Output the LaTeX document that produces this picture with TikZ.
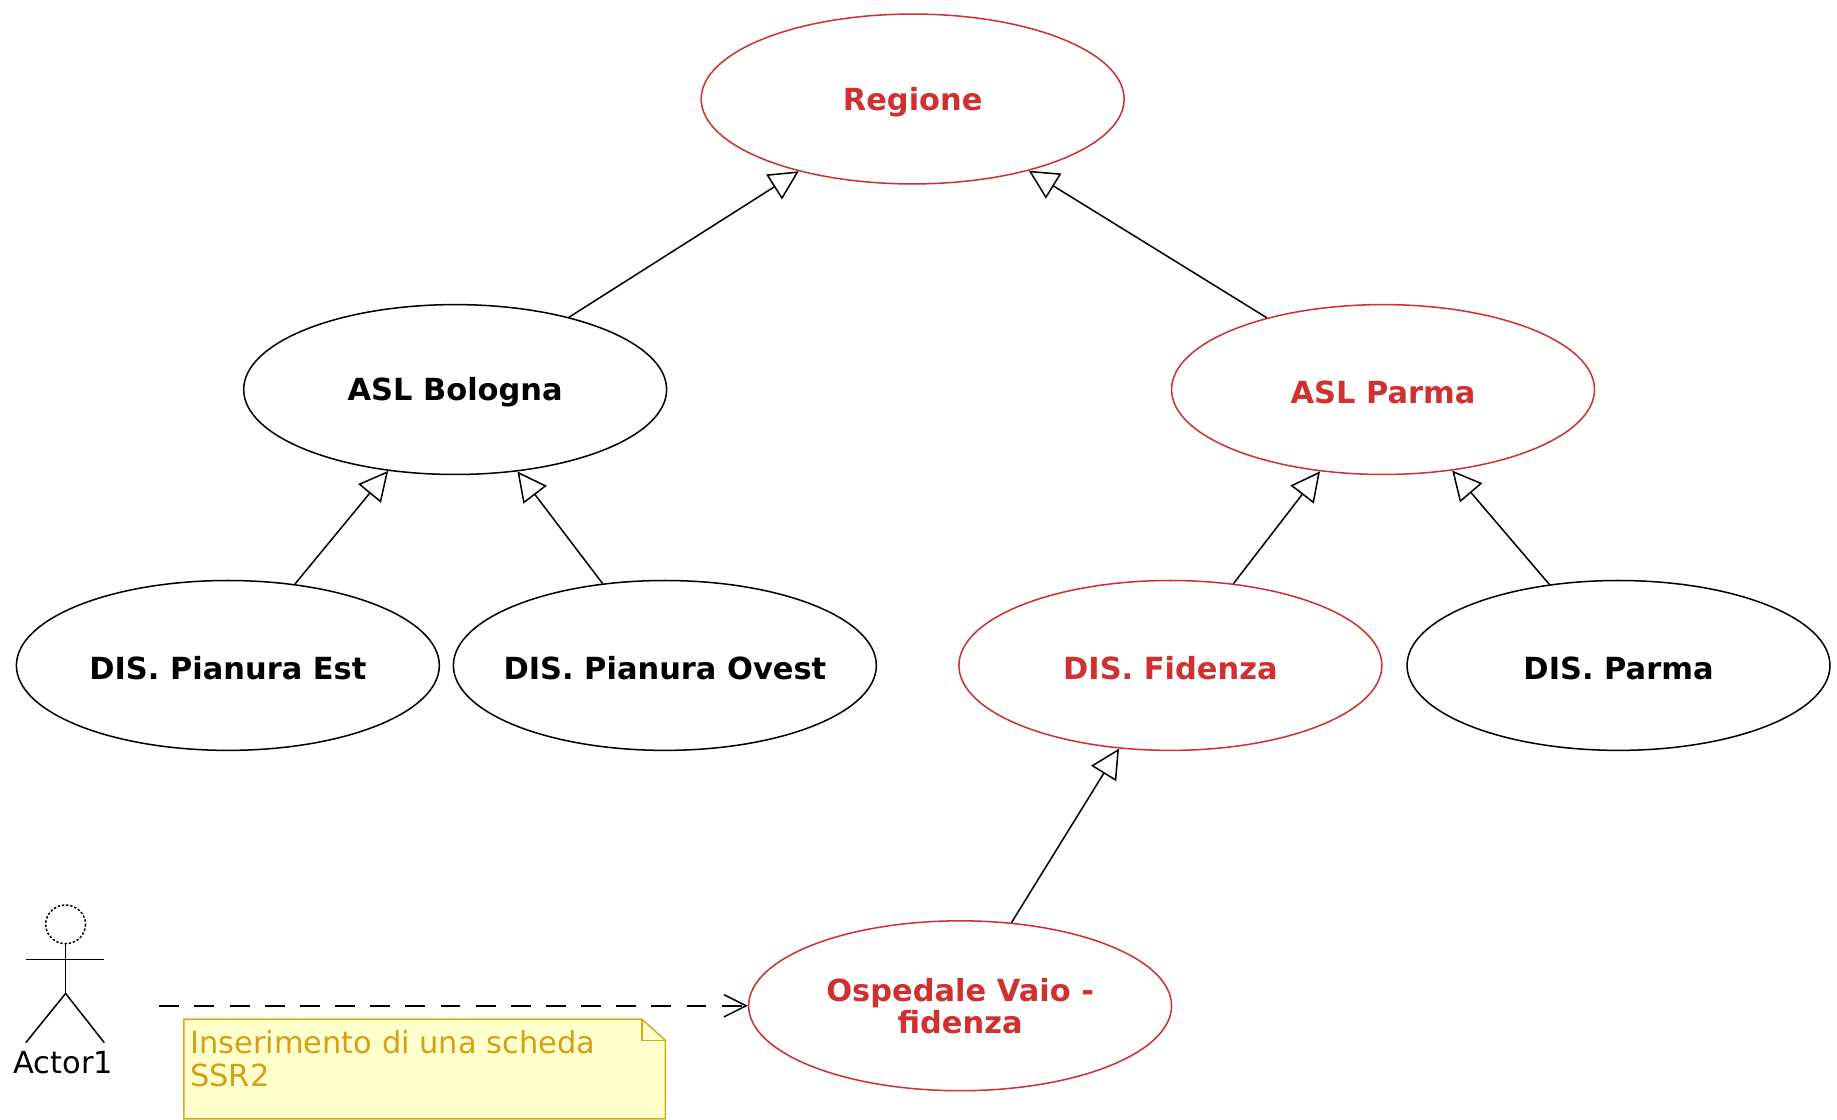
\documentclass[tikz,border=0pt]{standalone}
\usepackage{fontspec}
\setmainfont{DejaVu Sans}
\usetikzlibrary{shapes.geometric,arrows.meta}
\definecolor{ucred}{RGB}{208,48,48}
\definecolor{notefill}{RGB}{255,255,204}
\definecolor{noteline}{RGB}{214,170,40}
\definecolor{notetext}{RGB}{212,160,23}
\newcommand{\uctext}[1]{\makebox[0pt]{\raisebox{-1.2pt}[\height][\depth]{#1}}}
\tikzset{
  uc/.style={ellipse, draw=black, line width=0.65pt, minimum width=180.5pt, minimum height=72.5pt, inner sep=0pt,
    font=\fontsize{13pt}{14pt}\selectfont\bfseries, align=center},
  ucr/.style={uc, draw=ucred, text=ucred},
  gen/.style={line width=0.65pt, -{Triangle[open, length=12.5pt, width=12.5pt]}},
  dep/.style={line width=0.65pt, dash pattern=on 8.5pt off 6.5pt, -{Straight Barb[length=9.5pt, width=9.5pt]}},
  actorline/.style={line width=0.65pt},
}
\begin{document}
\begin{tikzpicture}[x=0.5pt, y=-0.5pt]
\useasboundingbox (0,0) rectangle (1568,956);
\node[ucr] (reg) at (779,84.5) {\uctext{Regione}};
\node[uc] (aslbo) at (388.5,332.5) {\uctext{ASL Bologna}};
\node[ucr] (aslpr) at (1180.5,332.5) {\uctext{ASL Parma}};
\node[uc] (pest) at (194.5,568) {\uctext{DIS. Pianura Est}};
\node[uc] (povest) at (567.5,568) {\uctext{DIS. Pianura Ovest}};
\node[ucr] (fid) at (999,568) {\uctext{DIS. Fidenza}};
\node[uc] (dpr) at (1381.5,568) {\uctext{DIS. Parma}};
\node[ucr] (osp) at (819.5,858.5) {\makebox[0pt]{\raisebox{-2pt}[\height][\depth]{\begin{tabular}{@{}c@{}}Ospedale Vaio -\\[-0.5pt]fidenza\end{tabular}}}};
\draw[gen] (aslbo) -- (reg);
\draw[gen] (aslpr) -- (reg);
\draw[gen] (pest) -- (aslbo);
\draw[gen] (povest) -- (aslbo);
\draw[gen] (fid) -- (aslpr);
\draw[gen] (dpr) -- (aslpr);
\draw[gen] (osp) -- (fid);
% actor
\draw[actorline, dash pattern=on 1pt off 0.8pt] (56,789) ellipse [x radius=17, y radius=16.5];
\coordinate (neck) at (56,805.5);
\coordinate (hip) at (56,848);
\draw[actorline] (neck) -- (hip);
\draw[actorline] (22,819) -- (89,819);
\draw[actorline] (22,890) -- (hip) -- (89,890);
\node[font=\fontsize{13pt}{14pt}\selectfont, inner sep=0pt] (actor) at (54,907) {Actor1};
\coordinate (depstart) at (136,858.5);
\draw[dep] (depstart) -- (osp);
% note
\draw[line width=0.65pt, draw=noteline, fill=notefill] (157,870) -- (548,870) -- (568,888) -- (568,955) -- (157,955) -- cycle;
\draw[line width=0.65pt, draw=noteline] (548,870) -- (548,888) -- (568,888);
\node[anchor=north west, inner sep=0pt, text=notetext, font=\fontsize{13pt}{14pt}\selectfont, align=left] (note) at (162,879) {Inserimento di una scheda\\SSR2};
\end{tikzpicture}
\end{document}
